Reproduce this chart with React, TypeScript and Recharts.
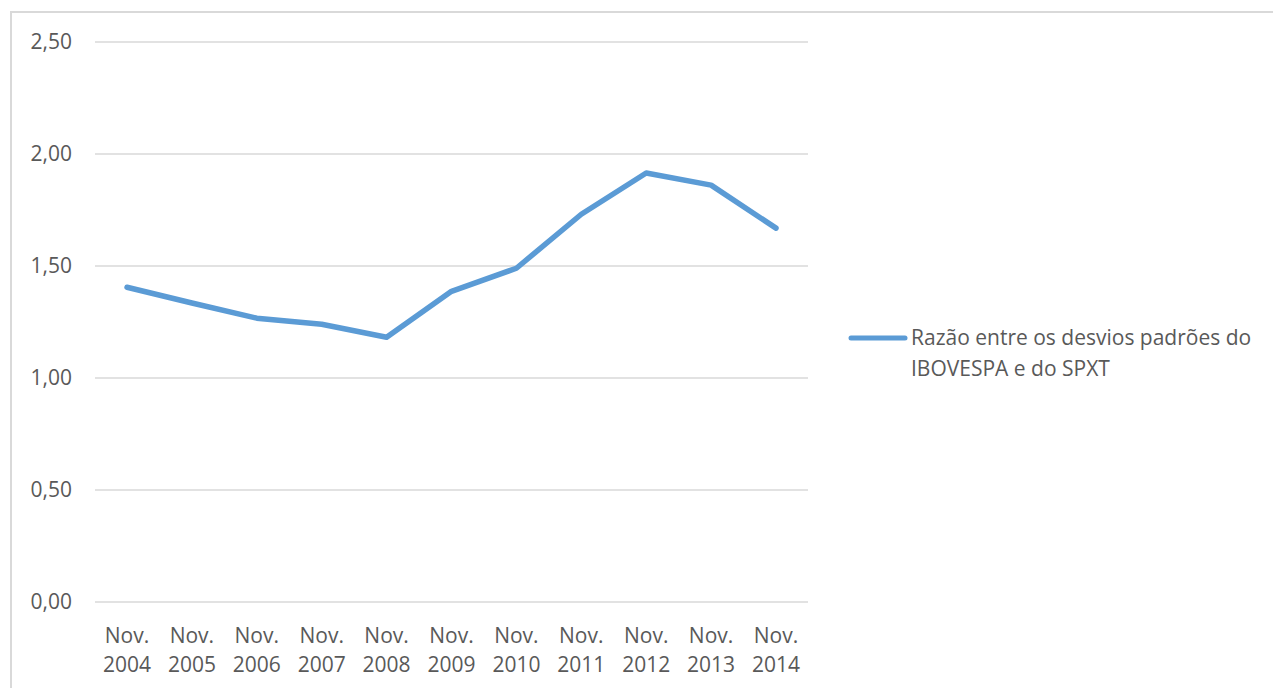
import { CartesianGrid, Legend, Line, LineChart, XAxis, YAxis } from "recharts"

const months = ["Nov.", "Nov.", "Nov.", "Nov.", "Nov.", "Nov.", "Nov.", "Nov.", "Nov.", "Nov.", "Nov."]
const years = ["2004", "2005", "2006", "2007", "2008", "2009", "2010", "2011", "2012", "2013", "2014"]
const ratio = [1.405, 1.335, 1.267, 1.24, 1.182, 1.387, 1.49, 1.731, 1.915, 1.861, 1.669]
const yTicks = [0, 0.5, 1, 1.5, 2, 2.5]
const seriesName = "Razão entre os desvios padrões do IBOVESPA e do SPXT"

const data = years.map((y, i) => ({ label: `${months[i]} ${y}`, month: months[i], year: y, ratio: ratio[i] }))

const FONT = "'Open Sans', 'Noto Sans', sans-serif"
const TEXT = "#595959"
const FS = 21

const DateTick = (props: any) => {
  const { x, y, index } = props
  return (
    <text x={x} y={y} textAnchor="middle" fill={TEXT} fontFamily={FONT} fontSize={FS}>
      <tspan x={x} dy={41}>{months[index]}</tspan>
      <tspan x={x} dy={29}>{years[index]}</tspan>
    </text>
  )
}

// legend is drawn inside a zero-size wrapper so it takes no room from the plot
const LegendBox = () => (
  <div style={{ position: 'absolute', left: 0, top: 0, width: 420, height: 70, fontFamily: FONT, fontSize: FS, color: TEXT }}>
    <svg width={60} height={20} style={{ position: 'absolute', left: 0, top: 3 }}>
      <line x1={3} y1={10} x2={57} y2={10} stroke="#5b9bd5" strokeWidth={5} strokeLinecap="round" />
    </svg>
    <div style={{ position: 'absolute', left: 63, top: -3, lineHeight: '31px', width: 380, whiteSpace: 'nowrap' }}>
      Razão entre os desvios padrões do<br />IBOVESPA e do SPXT
    </div>
  </div>
)

export default function App() {
  return (
    <div style={{ position: 'absolute', left: 0, top: 0, width: 1273, height: 688, overflow: 'hidden', background: '#fff' }}>
      <div style={{ position: 'absolute', left: 10, top: 11, width: 1290, height: 700, border: '2px solid #d9d9d9' }} />
      <LineChart width={1273} height={688} data={data} margin={{ top: 42, right: 465, left: 0, bottom: 56 }}>
        <CartesianGrid vertical={false} stroke="#d9d9d9" strokeWidth={1.5} />
        <XAxis
          dataKey="label"
          height={30}
          axisLine={false}
          tickLine={false}
          tickSize={0}
          tickMargin={0}
          interval={0}
          padding={{ left: 32, right: 32 }}
          tick={<DateTick />}
        />
        <YAxis
          domain={[0, 2.5]}
          ticks={yTicks}
          width={95}
          axisLine={false}
          tickLine={false}
          tickSize={0}
          tickMargin={23}
          tick={{ fill: TEXT, fontFamily: FONT, fontSize: FS }}
          tickFormatter={(v) => Number(v).toFixed(2).replace('.', ',')}
        />
        <Legend
          wrapperStyle={{ position: 'absolute', left: 848, top: 325, width: 0, height: 0, overflow: 'visible' }}
          content={<LegendBox />}
        />
        <Line
          type="linear"
          dataKey="ratio"
          name={seriesName}
          stroke="#5b9bd5"
          strokeWidth={5.5}
          strokeLinecap="round"
          strokeLinejoin="round"
          dot={false}
          activeDot={false}
          isAnimationActive={false}
        />
      </LineChart>
    </div>
  )
}
